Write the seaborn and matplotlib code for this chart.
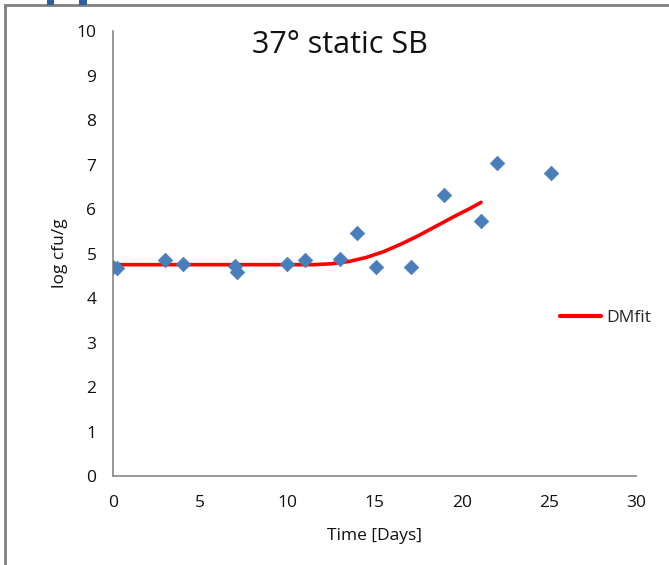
import matplotlib
matplotlib.use("Agg")
import matplotlib.pyplot as plt
import seaborn as sns
import pandas as pd
from matplotlib.patches import Rectangle
from matplotlib.lines import Line2D

# Observed data
days = [0.0, 0.2, 3.0, 4.0, 7.0, 7.1, 10.0, 11.0, 13.0, 14.0, 15.1, 17.1, 19.0, 21.1, 22.0, 25.1]
log_cfu = [4.70, 4.67, 4.85, 4.76, 4.72, 4.58, 4.76, 4.85, 4.88, 5.46, 4.70, 4.70, 6.31, 5.73, 7.03, 6.81]

# DMfit curve
fit_days = [0.0, 11.5, 12.5, 13.5, 14.5, 15.5, 16.5, 17.5, 18.5, 19.5, 20.5, 21.1]
fit_log = [4.75, 4.75, 4.77, 4.82, 4.91, 5.04, 5.21, 5.40, 5.61, 5.82, 6.02, 6.15]

x_ticks = [0, 5, 10, 15, 20, 25, 30]
y_ticks = list(range(0, 11))

sns.set_style("white")
plt.rcParams['font.family'] = ['Open Sans', 'DejaVu Sans']

fig = plt.figure(figsize=(6.69, 5.65), dpi=100)
ax = fig.add_axes([0.169, 0.1575, 0.782, 0.7875])

obs = pd.DataFrame({"Time": days, "logcfu": log_cfu})
fit = pd.DataFrame({"Time": fit_days, "logcfu": fit_log})

sns.scatterplot(data=obs, x="Time", y="logcfu", ax=ax, marker="D", s=55,
                color="#4a7ebb", edgecolor="#4a7ebb", linewidth=0.5, zorder=3)
sns.lineplot(data=fit, x="Time", y="logcfu", ax=ax, color="#ff0000",
             linewidth=2.6, zorder=2)

ax.set_xlim(0, 30)
ax.set_ylim(0, 10)
ax.set_xticks(x_ticks)
ax.set_yticks(y_ticks)
ax.tick_params(axis="both", direction="out", length=5, width=1,
               color="#868686", labelsize=12.5, labelcolor="#111111", pad=7)
ax.tick_params(axis="x", pad=9)
for s in ["top", "right"]:
    ax.spines[s].set_visible(False)
for s in ["left", "bottom"]:
    ax.spines[s].set_color("#868686")
    ax.spines[s].set_linewidth(1.2)

ax.set_xlabel("Time [Days]", fontsize=12.5, color="#111111", labelpad=12)
ax.set_ylabel("log cfu/g", fontsize=12.5, color="#111111", labelpad=6)

fig.text(0.508, 0.92, "37° static SB", fontsize=22, ha="center", va="center", color="#111111")

handle = Line2D([0], [0], color="#ff0000", linewidth=3)
leg = fig.legend([handle], ["DMfit"], loc="center left", bbox_to_anchor=(0.813, 0.437),
                 frameon=False, fontsize=12.5, handlelength=2.4, handletextpad=0.3)

# figure border and decorations
fig.add_artist(Rectangle((0.007, -0.05), 1.1, 1.041, transform=fig.transFigure,
                         fill=False, edgecolor="#7f7f7f", linewidth=2))
fig.add_artist(Rectangle((47/669, 1-5/565), 7/669, 6/565, transform=fig.transFigure,
                         facecolor="#2e5f9e", edgecolor="none"))
fig.add_artist(Rectangle((79/669, 1-5/565), 8/669, 6/565, transform=fig.transFigure,
                         facecolor="#2e5f9e", edgecolor="none"))

fig.savefig("out.png", dpi=100)
